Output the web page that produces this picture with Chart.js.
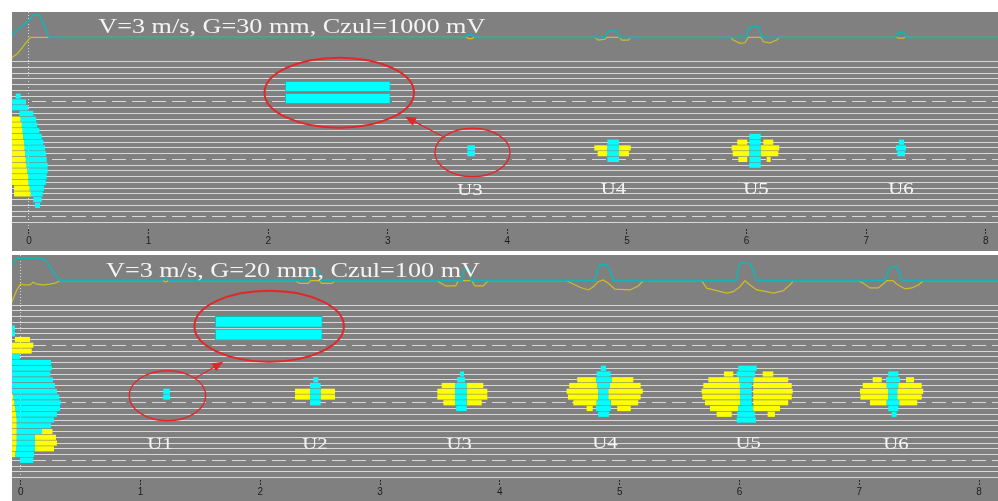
<!DOCTYPE html>
<html>
<head>
<meta charset="utf-8">
<script src="https://cdn.jsdelivr.net/npm/chart.js@4.4.1/dist/chart.umd.min.js"></script>
<style>
  html, body { margin: 0; padding: 0; background: #fff; }
  .panel { position: absolute; left: 12px; width: 986px; background: #808080; }
  #p1 { top: 12px; height: 239px; }
  #p2 { top: 255px; height: 246px; }
</style>
</head>
<body>
<div class="panel" id="p1"><canvas id="c1"></canvas></div>
<div class="panel" id="p2"><canvas id="c2"></canvas></div>
<script>
// ---- top panel: V=3 m/s, G=30 mm, Czul=1000 mV ----
// bars: [row, from, to]   (x in the scan units 0..8)
const topCyan = [
  [6, -0.111, -0.069], [7, -0.15, -0.025], [8, -0.15, -0.006], [9, -0.081, 0.036],
  [10, -0.07, 0.059], [11, -0.06, 0.069], [12, -0.053, 0.086], [13, -0.048, 0.106],
  [14, -0.042, 0.120], [15, -0.036, 0.134], [16, -0.033, 0.142], [17, -0.027, 0.148],
  [18, -0.02, 0.156], [19, -0.013, 0.156], [20, -0.006, 0.148], [21, -0.004, 0.140],
  [22, 0.006, 0.125], [23, 0.015, 0.115], [24, 0.036, 0.106], [25, 0.050, 0.092],
  [15, 3.665, 3.729], [16, 3.665, 3.729],
  [14, 4.836, 4.933], [15, 4.836, 4.933], [16, 4.836, 4.933], [17, 4.836, 4.933],
  [13, 6.023, 6.118], [14, 6.023, 6.118], [15, 6.023, 6.118], [16, 6.023, 6.118], [17, 6.023, 6.118], [18, 6.023, 6.118],
  [14, 7.274, 7.316], [15, 7.249, 7.333], [16, 7.260, 7.324]
];
const topYellow = [
  [10, -0.2, -0.07], [11, -0.2, -0.06], [12, -0.2, -0.053], [13, -0.2, -0.048],
  [14, -0.2, -0.042], [15, -0.2, -0.036], [16, -0.2, -0.033], [17, -0.2, -0.027],
  [18, -0.2, -0.02], [19, -0.2, -0.013], [20, -0.2, -0.006], [21, -0.2, -0.004],
  [22, -0.125, 0.006], [23, -0.125, 0.015],
  [15, 4.727, 4.836], [16, 4.755, 4.836], [15, 4.933, 5.031], [16, 4.933, 5.017],
  [14, 5.922, 6.006], [15, 5.875, 6.023], [16, 5.884, 6.023], [17, 5.931, 6.006],
  [14, 6.140, 6.223], [15, 6.118, 6.273], [16, 6.118, 6.265], [17, 6.168, 6.201]
];
const topInset = [[4.31, 2.140, 3.024], [6.4, 2.140, 3.024]];
// traces: [x, amplitude]
const topCyanTrace = [
  [-0.15, 6], [-0.142, 9], [-0.117, 22], [-0.048, 49], [0.008, 69], [0.031, 89], [0.086, 89],
  [0.120, 56], [0.153, 16], [0.170, 0],
  [3.645, 0], [3.662, 11], [3.712, 11], [3.729, 0],
  [4.816, 0], [4.841, 25], [4.908, 26], [4.937, 0],
  [5.995, 0], [6.024, 41], [6.095, 42], [6.129, 0],
  [7.247, 0], [7.266, 19], [7.308, 21], [7.333, 0],
  [8.2, 0]
];
const topYellowTrace = [
  [-0.15, -84], [-0.142, -81], [-0.100, -67], [-0.059, -43], [-0.021, -19], [0.013, 0],
  [3.66, 0], [3.675, -5], [3.705, -5], [3.72, 0],
  [4.727, 0], [4.760, -11], [4.816, -8], [4.831, 0], [4.936, 0], [4.956, -11], [5.011, -11], [5.031, 0],
  [5.867, 0], [5.889, -11], [5.945, -24], [5.987, -22], [6.014, 0], [6.118, 0], [6.140, -18],
  [6.196, -22], [6.252, -11], [6.273, 0],
  [7.25, 0], [7.27, -3], [7.31, -3], [7.33, 0],
  [8.2, 0]
];
const topLabels = ['U3', 'U4', 'U5', 'U6'];
const topLabelX = [3.687, 4.886, 6.078, 7.291];
const topLabelRow = [23.2, 23.0, 23.0, 23.0];
// rings: [x, row, x radius, row radius, line width]
const topRings = [[2.594, 5.39, 0.625, 6.09, 2], [3.708, 15.79, 0.314, 4.2, 1.4]];
const topArrow = [3.464, 13.04, 3.144, 9.57];

// ---- bottom panel: V=3 m/s, G=20 mm, Czul=100 mV ----
const botCyan = [
  [4, -0.08, -0.048], [5, -0.08, -0.048], [9, -0.08, -0.006],
  [10, -0.08, 0.253], [11, -0.08, 0.259], [12, -0.08, 0.247], [13, -0.08, 0.270],
  [14, -0.08, 0.286], [15, -0.08, 0.303], [16, -0.060, 0.322], [17, -0.052, 0.334],
  [18, -0.045, 0.328], [19, -0.039, 0.303], [20, -0.033, 0.278], [21, -0.033, 0.253],
  [22, -0.033, 0.178], [23, -0.033, 0.119], [24, -0.033, 0.119], [25, -0.039, 0.119],
  [26, -0.045, 0.111], [27, -0.006, 0.105],
  [15, 1.190, 1.246], [16, 1.190, 1.246],
  [13, 2.443, 2.484], [14, 2.415, 2.504], [15, 2.415, 2.504], [16, 2.415, 2.504], [17, 2.415, 2.504],
  [12, 3.667, 3.700], [13, 3.644, 3.709], [14, 3.626, 3.723], [15, 3.626, 3.723],
  [16, 3.626, 3.723], [17, 3.626, 3.723], [18, 3.636, 3.723],
  [11, 4.842, 4.886], [12, 4.808, 4.925], [13, 4.802, 4.933], [14, 4.813, 4.919], [15, 4.821, 4.905],
  [16, 4.821, 4.905], [17, 4.808, 4.925], [18, 4.802, 4.925], [19, 4.821, 4.912],
  [11, 5.990, 6.144], [12, 5.977, 6.129], [13, 5.998, 6.115], [14, 6.004, 6.102], [15, 6.004, 6.102],
  [16, 6.004, 6.102], [17, 6.004, 6.102], [18, 5.990, 6.115], [19, 5.982, 6.129], [20, 5.977, 6.138],
  [12, 7.242, 7.326], [13, 7.223, 7.340], [14, 7.229, 7.326], [15, 7.242, 7.317],
  [16, 7.242, 7.317], [17, 7.229, 7.334], [18, 7.242, 7.326], [19, 7.270, 7.312]
];
const botYellow = [
  [6, -0.048, 0.078], [7, -0.08, 0.105], [8, -0.08, 0.092],
  [16, -0.08, -0.060], [17, -0.08, -0.052], [18, -0.08, -0.045], [19, -0.08, -0.039],
  [20, -0.08, -0.033], [21, -0.08, -0.033], [22, -0.08, -0.033], [23, -0.08, -0.033],
  [24, -0.08, -0.033], [25, -0.08, -0.039], [26, -0.08, -0.045],
  [22, 0.178, 0.265], [23, 0.119, 0.295], [24, 0.119, 0.303], [25, 0.119, 0.278],
  [15, 2.290, 2.415], [16, 2.290, 2.415], [15, 2.504, 2.624], [16, 2.504, 2.624],
  [14, 3.514, 3.626], [15, 3.478, 3.626], [16, 3.478, 3.626], [17, 3.528, 3.626],
  [14, 3.723, 3.862], [15, 3.723, 3.895], [16, 3.723, 3.895], [17, 3.723, 3.848],
  [13, 4.646, 4.802], [14, 4.579, 4.813], [15, 4.557, 4.821], [16, 4.568, 4.821], [17, 4.613, 4.808], [18, 4.724, 4.775],
  [13, 4.933, 5.114], [14, 4.919, 5.175], [15, 4.905, 5.192], [16, 4.905, 5.175], [17, 4.925, 5.155], [18, 4.980, 5.092],
  [12, 5.871, 5.948], [13, 5.740, 5.998], [14, 5.698, 6.004], [15, 5.684, 6.004], [16, 5.690, 6.004],
  [17, 5.712, 6.004], [18, 5.754, 5.990], [19, 5.810, 5.935],
  [12, 6.194, 6.282], [13, 6.115, 6.407], [14, 6.115, 6.436], [15, 6.115, 6.444], [16, 6.115, 6.436],
  [17, 6.115, 6.407], [18, 6.115, 6.338], [19, 6.235, 6.296],
  [13, 7.112, 7.187], [14, 7.029, 7.229], [15, 7.006, 7.242], [16, 7.010, 7.242], [17, 7.089, 7.229],
  [13, 7.390, 7.457], [14, 7.326, 7.521], [15, 7.317, 7.534], [16, 7.317, 7.521], [17, 7.334, 7.484]
];
const botInset = [[2.93, 1.622, 2.521], [5.13, 1.622, 2.521]];
const botCyanTrace = [
  [-0.08, 55], [-0.073, 63], [-0.033, 90], [0.078, 90], [0.189, 87], [0.217, 76], [0.259, 43],
  [0.301, 16], [0.328, 0],
  [1.18, 0], [1.195, 8], [1.225, 8], [1.24, 0],
  [2.40, 0], [2.425, 38], [2.49, 38], [2.51, 0],
  [3.685, 0], [3.70, 45], [3.745, 45], [3.76, 0],
  [4.794, 0], [4.813, 43], [4.836, 63], [4.891, 63], [4.919, 43], [4.947, 0],
  [5.971, 0], [5.998, 63], [6.010, 70], [6.082, 70], [6.115, 43], [6.144, 0],
  [7.214, 0], [7.242, 43], [7.270, 56], [7.312, 56], [7.340, 27], [7.354, 0],
  [8.2, 0]
];
const botYellowTrace = [
  [-0.08, -90], [-0.073, -84], [-0.033, -37], [0, -13], [0.022, -17], [0.078, -17], [0.105, -6],
  [0.134, -14], [0.189, -17], [0.245, -14], [0.286, -10], [0.314, -3], [0.328, 0],
  [1.19, 0], [1.2, -4], [1.22, -4], [1.23, 0],
  [2.290, 0], [2.331, -11], [2.401, -11], [2.421, 0], [2.493, 0], [2.513, -11], [2.596, -11], [2.624, 0],
  [3.472, 0], [3.548, -21], [3.631, -21], [3.653, 0], [3.765, 0], [3.792, -21], [3.862, -21], [3.903, 0],
  [4.552, 0], [4.599, -10], [4.668, -26], [4.738, -37], [4.780, -24], [4.821, -4], [4.863, 3],
  [4.905, -10], [4.961, -34], [5.086, -37], [5.155, -21], [5.197, 0],
  [5.684, 0], [5.726, -30], [5.810, -40], [5.893, -50], [5.948, -44], [6.004, -24], [6.046, 0],
  [6.088, -17], [6.144, -37], [6.227, -44], [6.282, -50], [6.366, -40], [6.436, -10], [6.444, 0],
  [6.992, 0], [7.033, -10], [7.089, -29], [7.158, -29], [7.200, -13], [7.229, 0], [7.282, 0],
  [7.312, -13], [7.382, -33], [7.438, -29], [7.493, -17], [7.535, 0],
  [8.2, 0]
];
const botLabels = ['U1', 'U2', 'U3', 'U4', 'U5', 'U6'];
const botLabelX = [1.163, 2.456, 3.661, 4.877, 6.073, 7.306];
const botLabelRow = [25.1, 25.0, 25.0, 24.8, 24.9, 25.1];
const botRings = [[2.074, 3.69, 0.624, 6.17, 2], [1.225, 15.77, 0.319, 4.35, 1.4]];
const botArrow = [1.455, 12.75, 1.691, 9.86];

const RED = '#e3262a';

function stretchedText(ctx, text, px, py, font, sx, align) {
  ctx.save();
  ctx.translate(px, py);
  ctx.scale(sx, 1);
  ctx.font = font;
  ctx.fillStyle = '#f4f4f4';
  ctx.textAlign = align;
  ctx.textBaseline = 'alphabetic';
  ctx.fillText(text, 0, 0);
  ctx.restore();
}

function overlayFor(p) {
  return {
    id: 'overlay',
    afterDatasetsDraw(chart) {
      const { ctx } = chart;
      const { x, y, yt } = chart.scales;
      ctx.save();
      ctx.strokeStyle = RED;
      p.rings.forEach(([cx, cr, rx, rr, w]) => {
        const px = x.getPixelForValue(cx);
        const py = y.getPixelForValue(cr);
        ctx.lineWidth = w;
        ctx.beginPath();
        ctx.ellipse(px, py, x.getPixelForValue(cx + rx) - px, y.getPixelForValue(cr + rr) - py, 0, 0, Math.PI * 2);
        ctx.stroke();
      });
      const [ax, ar, bx, br] = p.arrow;
      const x1 = x.getPixelForValue(ax), y1 = y.getPixelForValue(ar);
      const x2 = x.getPixelForValue(bx), y2 = y.getPixelForValue(br);
      const ang = Math.atan2(y2 - y1, x2 - x1);
      ctx.lineWidth = 1.2;
      ctx.beginPath();
      ctx.moveTo(x1, y1);
      ctx.lineTo(x2 - 8 * Math.cos(ang), y2 - 8 * Math.sin(ang));
      ctx.stroke();
      ctx.fillStyle = RED;
      ctx.beginPath();
      ctx.moveTo(x2, y2);
      ctx.lineTo(x2 - 11 * Math.cos(ang) + 4.5 * Math.sin(ang), y2 - 11 * Math.sin(ang) - 4.5 * Math.cos(ang));
      ctx.lineTo(x2 - 11 * Math.cos(ang) - 4.5 * Math.sin(ang), y2 - 11 * Math.sin(ang) + 4.5 * Math.cos(ang));
      ctx.closePath();
      ctx.fill();
      ctx.restore();

      p.labels.forEach((t, i) => {
        stretchedText(ctx, t, x.getPixelForValue(p.labelX[i]), y.getPixelForValue(p.labelRow[i]),
          '16px "Liberation Serif"', 1.3, 'center');
      });
      stretchedText(ctx, p.title, x.getPixelForValue(p.titleX), yt.getPixelForValue(p.titleY),
        '20px "Liberation Serif"', 1.31, 'left');
    }
  };
}

function makePanel(id, p) {
  const toBars = (list) => list.map(([row, a, b]) => ({ x: [a, b], y: row }));
  const toLine = (list) => list.map(([xv, v]) => ({ x: xv, y: v }));
  const barStyle = {
    indexAxis: 'y', grouped: false, categoryPercentage: 1, barPercentage: 0.9,
    borderWidth: 0, borderSkipped: false
  };
  const rowScale = {
    type: 'linear', reverse: true, min: p.yMin, max: p.yMax, offset: false, display: false,
    grid: { offset: false }
  };
  new Chart(document.getElementById(id), {
    type: 'bar',
    data: {
      datasets: [
        Object.assign({ data: toBars(p.cyan), backgroundColor: '#00ffff', yAxisID: 'y' }, barStyle),
        Object.assign({ data: toBars(p.yellow), backgroundColor: '#ffff00', yAxisID: 'y' }, barStyle),
        Object.assign({}, barStyle, { data: toBars(p.inset), backgroundColor: '#00ffff', borderColor: '#10bcbc',
          borderWidth: 1, yAxisID: 'yz', barPercentage: 0.92 }),
        { type: 'line', indexAxis: 'x', data: toLine(p.cyanTrace), yAxisID: 'yt', borderColor: '#14b4b4',
          borderWidth: 1.7, pointRadius: 0, tension: 0 },
        { type: 'line', indexAxis: 'x', data: toLine(p.yellowTrace), yAxisID: 'yt', borderColor: '#cdbf22',
          borderWidth: 1.2, pointRadius: 0, tension: 0 }
      ]
    },
    options: {
      responsive: true,
      maintainAspectRatio: false,
      animation: false,
      indexAxis: 'y',
      layout: { padding: 0 },
      events: [],
      plugins: { legend: { display: false }, tooltip: { enabled: false } },
      scales: {
        x: {
          type: 'linear', position: 'bottom', min: p.xMin, max: p.xMax, offset: false,
          afterFit: (s) => { s.height = p.axisHeight; },
          ticks: {
            stepSize: 1, includeBounds: false, color: '#1c1c1c', padding: 1, maxRotation: 0,
            font: { family: 'Liberation Sans', size: 10 }
          },
          grid: {
            offset: false,
            color: (c) => (c.tick && c.tick.value === 0 ? 'rgba(228,228,228,0.9)' : 'rgba(0,0,0,0)'),
            tickColor: '#2a2a2a', tickLength: 5, tickBorderDash: [2, 1]
          },
          border: { display: false, dash: [1, 2] }
        },
        y: {
          type: 'linear', reverse: true, min: p.yMin, max: p.yMax, offset: false,
          ticks: { display: false, stepSize: 1, includeBounds: false },
          grid: {
            offset: false, drawTicks: false, lineWidth: 1,
            color: (c) => (c.tick && c.tick.value >= 0 && c.tick.value <= p.lastRow ? '#d8d8d8' : 'rgba(0,0,0,0)')
          },
          border: { display: false, dash: (c) => (c.tick && c.tick.value % 10 === 7 ? [14, 6] : []) }
        },
        yz: rowScale,
        yt: { type: 'linear', min: p.tMin, max: p.tMax, display: false, offset: false }
      }
    },
    plugins: [overlayFor(p)]
  });
}

makePanel('c1', {
  cyan: topCyan, yellow: topYellow, inset: topInset,
  cyanTrace: topCyanTrace, yellowTrace: topYellowTrace,
  labels: topLabels, labelX: topLabelX, labelRow: topLabelRow,
  rings: topRings, arrow: topArrow,
  title: 'V=3 m/s, G=30 mm, Czul=1000 mV', titleX: 0.579, titleY: 18.4,
  xMin: -0.142, xMax: 8.102, yMin: -8.64, yMax: 29.1, lastRow: 28,
  tMin: -766.8, tMax: 101.2, axisHeight: 22
});

makePanel('c2', {
  cyan: botCyan, yellow: botYellow, inset: botInset,
  cyanTrace: botCyanTrace, yellowTrace: botYellowTrace,
  labels: botLabels, labelX: botLabelX, labelRow: botLabelRow,
  rings: botRings, arrow: botArrow,
  title: 'V=3 m/s, G=20 mm, Czul=100 mV', titleX: 0.712, titleY: 16,
  xMin: -0.0726, xMax: 8.158, yMin: -8.696, yMax: 30.43, lastRow: 30,
  tMin: -797.2, tMax: 102.8, axisHeight: 21
});
</script>
</body>
</html>
